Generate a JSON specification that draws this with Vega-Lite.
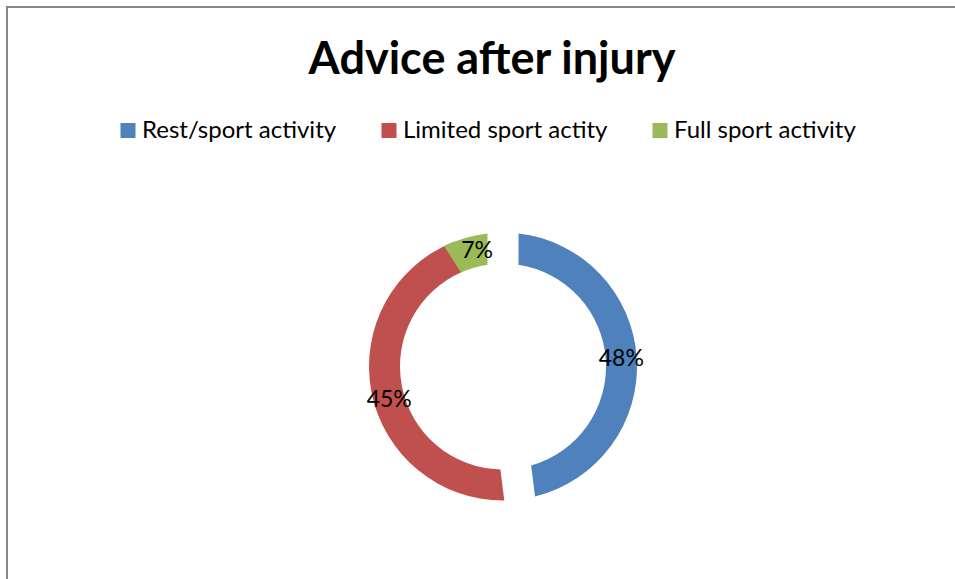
{
  "$schema": "https://vega.github.io/schema/vega-lite/v6.json",
  "width": 992,
  "height": 719,
  "autosize": "none",
  "padding": {"left": 7, "top": 7, "right": 0, "bottom": 0},
  "background": "white",
  "view": {"stroke": "#868686", "strokeWidth": 2, "fill": "white"},
  "title": {
    "text": "Advice after injury",
    "anchor": "middle",
    "frame": "group",
    "font": "Lato",
    "fontWeight": "bold",
    "fontSize": 45,
    "color": "#000000",
    "baseline": "alphabetic",
    "offset": -112,
    "dx": -11
  },
  "data": {
    "values": [
      {"category": "Rest/sport activity", "pct": 0.48},
      {"category": "Limited sport actity", "pct": 0.45},
      {"category": "Full sport activity", "pct": 0.07}
    ]
  },
  "transform": [{"stack": "pct", "groupby": [], "as": ["start", "end"]}],
  "encoding": {
    "color": {
      "field": "category",
      "type": "nominal",
      "scale": {
        "domain": ["Rest/sport activity", "Limited sport actity", "Full sport activity"],
        "range": ["#4F81BD", "#C0504D", "#9BBB59"]
      },
      "legend": {
        "title": null,
        "orient": "none",
        "direction": "horizontal",
        "columns": 3,
        "legendX": 109,
        "legendY": 111.5,
        "symbolType": "square",
        "symbolSize": 225,
        "symbolStrokeWidth": 0,
        "labelFont": "Lato",
        "labelFontSize": 24,
        "labelColor": "#000000",
        "labelOffset": 2,
        "labelLimit": 400,
        "columnPadding": 40,
        "padding": 0
      }
    }
  },
  "layer": [
    {
      "transform": [{"filter": "datum.category === 'Rest/sport activity'"}],
      "mark": {"type": "arc", "innerRadius": 103, "outerRadius": 134, "padAngle": 0.1837},
      "encoding": {
        "theta": {"field": "start", "type": "quantitative", "scale": {"domain": [0, 1]}},
        "theta2": {"field": "end"}
      }
    },
    {
      "transform": [{"filter": "datum.category === 'Limited sport actity'"}],
      "mark": {"type": "arc", "innerRadius": 103, "outerRadius": 134, "padAngle": 0.1837, "theta2Offset": 0.18},
      "encoding": {
        "theta": {"field": "start", "type": "quantitative", "scale": {"domain": [0, 1]}},
        "theta2": {"field": "end"}
      }
    },
    {
      "transform": [{"filter": "datum.category === 'Full sport activity'"}],
      "mark": {"type": "arc", "innerRadius": 103, "outerRadius": 134, "padAngle": 0.1837, "thetaOffset": -0.1312},
      "encoding": {
        "theta": {"field": "start", "type": "quantitative", "scale": {"domain": [0, 1]}},
        "theta2": {"field": "end"}
      }
    },
    {
      "mark": {"type": "text", "radius": 118.5, "font": "Lato", "fontSize": 23, "align": "center", "baseline": "middle"},
      "encoding": {
        "theta": {"field": "pct", "type": "quantitative", "stack": true, "scale": {"domain": [0, 1]}},
        "order": {"field": "pct", "type": "quantitative", "sort": "descending"},
        "text": {"field": "pct", "type": "quantitative", "format": ".0%"},
        "color": {"value": "#000000"}
      }
    }
  ],
  "config": {
    "view": {"stroke": "#868686", "strokeWidth": 2},
    "style": {"cell": {"stroke": "#868686", "strokeWidth": 2}}
  }
}
